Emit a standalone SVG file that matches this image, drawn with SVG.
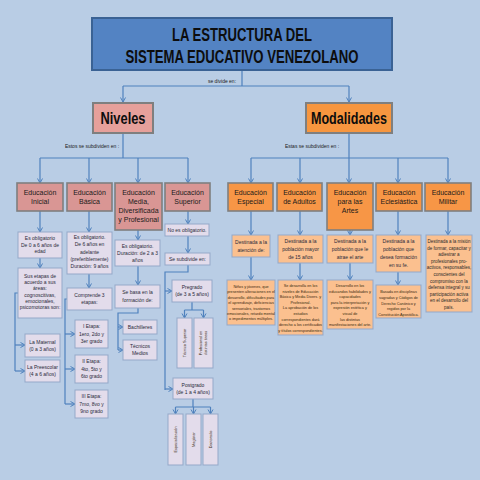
<svg xmlns="http://www.w3.org/2000/svg" width="480" height="480" viewBox="0 0 480 480">
<defs>
<marker id="ar" markerUnits="userSpaceOnUse" markerWidth="7" markerHeight="7" refX="5" refY="3" orient="auto">
<path d="M0.5,0.5 L5,3 L0.5,5.5" fill="none" stroke="#4F81BD" stroke-width="1"/>
</marker>
<style>
text{font-family:"Liberation Sans Narrow","Arial Narrow","Liberation Sans",Arial,sans-serif;text-anchor:middle;}
.title{font-size:18px;font-weight:bold;fill:#0d0d0d;}
.big{font-size:17px;font-weight:bold;fill:#0d0d0d;}
.hd{font-size:7px;fill:#1a1a1a;}
.sm{font-size:5px;fill:#2a2a3a;}
.ms{font-size:4.5px;fill:#2a2a2a;}
.xs{font-size:3.8px;fill:#3a2a10;}
.lbl{font-size:5px;fill:#1a1a1a;}
.tb{fill:#5383C3;stroke:#3A6294;stroke-width:2;}
.niv{fill:#E6A09B;stroke:#7F7F7F;stroke-width:2;}
.mod{fill:#F7963F;stroke:#7F7F7F;stroke-width:2;}
.sal{fill:#D99694;stroke:#7F7F7F;stroke-width:1.6;}
.org{fill:#F79646;stroke:#7F7F7F;stroke-width:1.6;}
.lav{fill:#E3DCEB;stroke:#95A9C9;stroke-width:1;}
.lor{fill:#FBC08F;stroke:#95A9C9;stroke-width:1;}
.c{fill:none;stroke:#4F81BD;stroke-width:1.2;}
.ca{fill:none;stroke:#4F81BD;stroke-width:1.2;marker-end:url(#ar);}
</style>
</defs>
<rect width="480" height="480" fill="#B9CDE5"/>

<g id="connectors">
<path class="c" d="M242,70 V86 M123,86 H349"/>
<path class="ca" d="M123,86 V102"/>
<path class="ca" d="M349,86 V102"/>
<path class="c" d="M123,132 V158 M40,158 H188"/>
<path class="ca" d="M40,158 V183"/>
<path class="ca" d="M89,158 V183"/>
<path class="ca" d="M138,158 V183"/>
<path class="ca" d="M188,158 V183"/>
<path class="ca" d="M40,211 V232"/>
<path class="ca" d="M40,258 V268"/>
<path class="c" d="M18,293 H15 V371"/>
<path class="ca" d="M15,345 H25"/>
<path class="ca" d="M15,371 H25"/>
<path class="ca" d="M89,211 V232"/>
<path class="ca" d="M89,274 V288"/>
<path class="c" d="M67,299 H65 V404"/>
<path class="ca" d="M65,334 H75"/>
<path class="ca" d="M65,369 H75"/>
<path class="ca" d="M65,404 H75"/>
<path class="ca" d="M138,230 V240"/>
<path class="ca" d="M138,266 V285"/>
<path class="c" d="M138,308 V313 H118 V350"/>
<path class="ca" d="M118,327 H123"/>
<path class="ca" d="M118,350 H123"/>
<path class="ca" d="M188,211 V224"/>
<path class="ca" d="M188,236 V253"/>
<path class="c" d="M188,265 V272 H165 V390"/>
<path class="ca" d="M165,291 H172"/>
<path class="ca" d="M165,389 H173"/>
<path class="c" d="M192,302 V310 M184.5,310 H203.5"/>
<path class="ca" d="M184.5,310 V318"/>
<path class="ca" d="M203.5,310 V318"/>
<path class="c" d="M193,399 V407 M175.5,407 H210.5"/>
<path class="ca" d="M175.5,407 V414"/>
<path class="ca" d="M193.5,407 V414"/>
<path class="ca" d="M210.5,407 V414"/>
<path class="c" d="M349,132 V158 M251,158 H448"/>
<path class="ca" d="M251,158 V183"/>
<path class="ca" d="M300,158 V183"/>
<path class="ca" d="M349,158 V183"/>
<path class="ca" d="M398,158 V183"/>
<path class="ca" d="M448,158 V183"/>
<path class="ca" d="M251,211 V235"/>
<path class="ca" d="M300,211 V235"/>
<path class="ca" d="M350,230 V235"/>
<path class="ca" d="M398,211 V235"/>
<path class="ca" d="M448,211 V235"/>
<path class="ca" d="M251,257 V280"/>
<path class="ca" d="M300,263 V280"/>
<path class="ca" d="M350,263 V280"/>
<path class="ca" d="M398,272 V285"/>
</g>
<text class="lbl" x="222" y="83">se divide en:</text>
<text class="lbl" x="92" y="148">Estos se subdividen en :</text>
<text class="lbl" x="312" y="148">Estas se subdividen en :</text>

<g id="title">
<rect class="tb" x="92" y="18" width="300" height="52"/>
<text class="title" x="242" y="41" textLength="140" lengthAdjust="spacingAndGlyphs">LA ESTRUCTURA DEL</text>
<text class="title" x="242" y="63" textLength="233" lengthAdjust="spacingAndGlyphs">SISTEMA EDUCATIVO VENEZOLANO</text>
</g>
<g id="niveles">
<rect class="niv" x="93" y="103" width="60" height="30"/>
<text class="big" x="123" y="124" textLength="45" lengthAdjust="spacingAndGlyphs">Niveles</text>
</g>
<g id="modalidades">
<rect class="mod" x="306" y="103" width="86" height="30"/>
<text class="big" x="349" y="124" textLength="76" lengthAdjust="spacingAndGlyphs">Modalidades</text>
</g>

<g id="ed-inicial"><rect class="sal" x="17" y="183" width="46" height="28"/>
<text class="hd" x="40" y="195">Educación<tspan x="40" dy="9">Inicial</tspan></text></g>
<g id="ed-basica"><rect class="sal" x="67" y="183" width="45" height="28"/>
<text class="hd" x="89.5" y="195">Educación<tspan x="89.5" dy="9">Básica</tspan></text></g>
<g id="ed-media"><rect class="sal" x="115" y="183" width="47" height="47"/>
<text class="hd" x="138.5" y="195">Educación<tspan x="138.5" dy="9">Media,</tspan><tspan x="138.5" dy="9">Diversificada</tspan><tspan x="138.5" dy="9">y Profesional</tspan></text></g>
<g id="ed-superior"><rect class="sal" x="165" y="183" width="45" height="28"/>
<text class="hd" x="187.5" y="195">Educación<tspan x="187.5" dy="9">Superior</tspan></text></g>

<g id="ini-1"><rect class="lav" x="18" y="232" width="44" height="26"/>
<text class="sm" x="40" y="240">Es obligatorio<tspan x="40" dy="6.5">De 0 a 6 años de</tspan><tspan x="40" dy="6.5">edad</tspan></text></g>
<g id="ini-2"><rect class="lav" x="18" y="268" width="44" height="50"/>
<text class="sm" x="40" y="278">Sus etapas de<tspan x="40" dy="6.2">acuerdo a sus</tspan><tspan x="40" dy="6.2">áreas:</tspan><tspan x="40" dy="6.2">cognoscitivas,</tspan><tspan x="40" dy="6.2">emocionales,</tspan><tspan x="40" dy="6.2">psicomotoras son:</tspan></text></g>
<g id="maternal"><rect class="lav" x="25" y="334" width="35" height="23"/>
<text class="sm" x="42.5" y="344">La Maternal<tspan x="42.5" dy="7">(0 a 3 años)</tspan></text></g>
<g id="preescolar"><rect class="lav" x="25" y="360" width="35" height="22"/>
<text class="sm" x="42.5" y="369">La Preescolar<tspan x="42.5" dy="7">(4 a 6 años)</tspan></text></g>

<g id="bas-1"><rect class="lav" x="67" y="232" width="45" height="42"/>
<text class="sm" x="89.5" y="239">Es obligatorio.<tspan x="89.5" dy="7.3">De 6 años en</tspan><tspan x="89.5" dy="7.3">adelante</tspan><tspan x="89.5" dy="7.3">(preferiblemente)</tspan><tspan x="89.5" dy="7.3">Duración: 9 años</tspan></text></g>
<g id="bas-2"><rect class="lav" x="67" y="288" width="45" height="22"/>
<text class="sm" x="89.5" y="297">Comprende 3<tspan x="89.5" dy="7">etapas:</tspan></text></g>
<g id="etapa1"><rect class="lav" x="75" y="320" width="33" height="28"/>
<text class="sm" x="91.5" y="328">I Etapa:<tspan x="91.5" dy="7.5">1ero, 2do y</tspan><tspan x="91.5" dy="7.5">3er grado</tspan></text></g>
<g id="etapa2"><rect class="lav" x="75" y="355" width="33" height="28"/>
<text class="sm" x="91.5" y="363">II Etapa:<tspan x="91.5" dy="7.5">4to, 5to y</tspan><tspan x="91.5" dy="7.5">6to grado</tspan></text></g>
<g id="etapa3"><rect class="lav" x="75" y="390" width="33" height="28"/>
<text class="sm" x="91.5" y="398">III Etapa:<tspan x="91.5" dy="7.5">7mo, 8vo y</tspan><tspan x="91.5" dy="7.5">9no grado</tspan></text></g>

<g id="med-1"><rect class="lav" x="115" y="240" width="45" height="26"/>
<text class="sm" x="137.5" y="248">Es obligatorio.<tspan x="137.5" dy="7">Duración: de 2 a 3</tspan><tspan x="137.5" dy="7">años</tspan></text></g>
<g id="med-2"><rect class="lav" x="115" y="285" width="45" height="23"/>
<text class="sm" x="137.5" y="294">Se basa en la<tspan x="137.5" dy="7.5">formación de:</tspan></text></g>
<g id="bachilleres"><rect class="lav" x="123" y="320" width="34" height="14"/>
<text class="sm" x="140" y="329">Bachilleres</text></g>
<g id="tecnicos"><rect class="lav" x="123" y="340" width="34" height="20"/>
<text class="sm" x="140" y="348">Técnicos<tspan x="140" dy="7">Medios</tspan></text></g>

<g id="sup-1"><rect class="lav" x="165" y="224" width="44" height="12"/>
<text class="sm" x="187" y="232">No es obligatorio.</text></g>
<g id="sup-2"><rect class="lav" x="165" y="253" width="45" height="12"/>
<text class="sm" x="187.5" y="261">Se subdivide en:</text></g>
<g id="pregrado"><rect class="lav" x="172" y="280" width="40" height="22"/>
<text class="sm" x="192" y="289">Pregrado<tspan x="192" dy="7">(de 3 a 5 años)</tspan></text></g>
<g id="tec-sup"><rect class="lav" x="177" y="318" width="15" height="50"/>
<text class="xs" transform="translate(186,343) rotate(-90)">Técnico Superior</text></g>
<g id="profesional"><rect class="lav" x="194" y="318" width="19" height="50"/>
<text class="xs" transform="translate(202,343) rotate(-90)">Profesional en<tspan x="0" dy="5">distintas áreas</tspan></text></g>
<g id="postgrado"><rect class="lav" x="173" y="378" width="40" height="21"/>
<text class="sm" x="193" y="387">Postgrado<tspan x="193" dy="7">(de 1 a 4 años)</tspan></text></g>
<g id="especializacion"><rect class="lav" x="168" y="414" width="15" height="51"/>
<text class="xs" transform="translate(177,439.5) rotate(-90)">Especialización</text></g>
<g id="magister"><rect class="lav" x="186" y="414" width="15" height="51"/>
<text class="xs" transform="translate(195,439.5) rotate(-90)">Magíster</text></g>
<g id="doctorado"><rect class="lav" x="203" y="414" width="15" height="51"/>
<text class="xs" transform="translate(212,439.5) rotate(-90)">Doctorado</text></g>

<g id="ed-especial"><rect class="org" x="228" y="183" width="45" height="28"/>
<text class="hd" x="250.5" y="195">Educación<tspan x="250.5" dy="9">Especial</tspan></text></g>
<g id="ed-adultos"><rect class="org" x="277" y="183" width="45" height="28"/>
<text class="hd" x="299.5" y="195">Educación<tspan x="299.5" dy="9">de Adultos</tspan></text></g>
<g id="ed-artes"><rect class="org" x="327" y="183" width="46" height="47"/>
<text class="hd" x="350" y="195">Educación<tspan x="350" dy="9">para las</tspan><tspan x="350" dy="9">Artes</tspan></text></g>
<g id="ed-eclesiastica"><rect class="org" x="376" y="183" width="46" height="28"/>
<text class="hd" x="399" y="195">Educación<tspan x="399" dy="9">Eclesiástica</tspan></text></g>
<g id="ed-militar"><rect class="org" x="425" y="183" width="46" height="28"/>
<text class="hd" x="448" y="195">Educación<tspan x="448" dy="9">Militar</tspan></text></g>

<g id="esp-1"><rect class="lor" x="232" y="235" width="38" height="22"/>
<text class="sm" x="251" y="244">Destinada a la<tspan x="251" dy="7.5">atención de:</tspan></text></g>
<g id="esp-2"><rect class="lor" x="227" y="280" width="48" height="45"/>
<text class="xs" x="251" y="288">Niños y jóvenes, que<tspan x="251" dy="5.4">presenten alteraciones en el</tspan><tspan x="251" dy="5.4">desarrollo, dificultades para</tspan><tspan x="251" dy="5.4">el aprendizaje, deficiencias</tspan><tspan x="251" dy="5.4">sensoriales, trastornos</tspan><tspan x="251" dy="5.4">emocionales, retardo mental</tspan><tspan x="251" dy="5.4">o impedimentos múltiples.</tspan></text></g>
<g id="adu-1"><rect class="lor" x="278" y="235" width="45" height="28"/>
<text class="sm" x="300.5" y="243">Destinada a la<tspan x="300.5" dy="8">población mayor</tspan><tspan x="300.5" dy="8">de 15 años</tspan></text></g>
<g id="adu-2"><rect class="lor" x="278" y="280" width="45" height="55"/>
<text class="xs" x="300.5" y="287">Se desarrolla en los<tspan x="300.5" dy="5.6">niveles de Educación</tspan><tspan x="300.5" dy="5.6">Básica y Media Divers. y</tspan><tspan x="300.5" dy="5.6">Profesional.</tspan><tspan x="300.5" dy="5.6">La aprobación de los</tspan><tspan x="300.5" dy="5.6">estudios</tspan><tspan x="300.5" dy="5.6">correspondientes dará</tspan><tspan x="300.5" dy="5.6">derecho a los certificados</tspan><tspan x="300.5" dy="5.6">y títulos correspondientes.</tspan></text></g>
<g id="art-1"><rect class="lor" x="327" y="235" width="46" height="28"/>
<text class="sm" x="350" y="243">Destinada a la<tspan x="350" dy="8">población que le</tspan><tspan x="350" dy="8">atrae el arte</tspan></text></g>
<g id="art-2"><rect class="lor" x="327" y="280" width="46" height="49"/>
<text class="xs" x="350" y="287">Desarrollo en los<tspan x="350" dy="5.6">educandos habilidades y</tspan><tspan x="350" dy="5.6">capacidades</tspan><tspan x="350" dy="5.6">para la interpretación y</tspan><tspan x="350" dy="5.6">expresión estética y</tspan><tspan x="350" dy="5.6">visual de</tspan><tspan x="350" dy="5.6">las distintas</tspan><tspan x="350" dy="5.6">manifestaciones del arte.</tspan></text></g>
<g id="ecl-1"><rect class="lor" x="376" y="235" width="45" height="37"/>
<text class="sm" x="398.5" y="243">Destinada a la<tspan x="398.5" dy="8">población que</tspan><tspan x="398.5" dy="8">desea formación</tspan><tspan x="398.5" dy="8">en su fe.</tspan></text></g>
<g id="ecl-2"><rect class="lor" x="376" y="285" width="45" height="33"/>
<text class="xs" x="398.5" y="293">Basada en disciplinas<tspan x="398.5" dy="5.8">sagradas y Códigos de</tspan><tspan x="398.5" dy="5.8">Derecho Canónico y</tspan><tspan x="398.5" dy="5.8">regidos por la</tspan><tspan x="398.5" dy="5.8">Constitución Apostólica.</tspan></text></g>
<g id="mil-1"><rect class="lor" x="426" y="235" width="46" height="77"/>
<text class="ms" x="449" y="243">Destinada a la misión<tspan x="449" dy="6.6">de formar, capacitar y</tspan><tspan x="449" dy="6.6">adiestrar a</tspan><tspan x="449" dy="6.6">profesionales pro-</tspan><tspan x="449" dy="6.6">activos, responsables,</tspan><tspan x="449" dy="6.6">conscientes del</tspan><tspan x="449" dy="6.6">compromiso con la</tspan><tspan x="449" dy="6.6">defensa integral y su</tspan><tspan x="449" dy="6.6">participación activa</tspan><tspan x="449" dy="6.6">en el desarrollo del</tspan><tspan x="449" dy="6.6">país.</tspan></text></g>
</svg>
